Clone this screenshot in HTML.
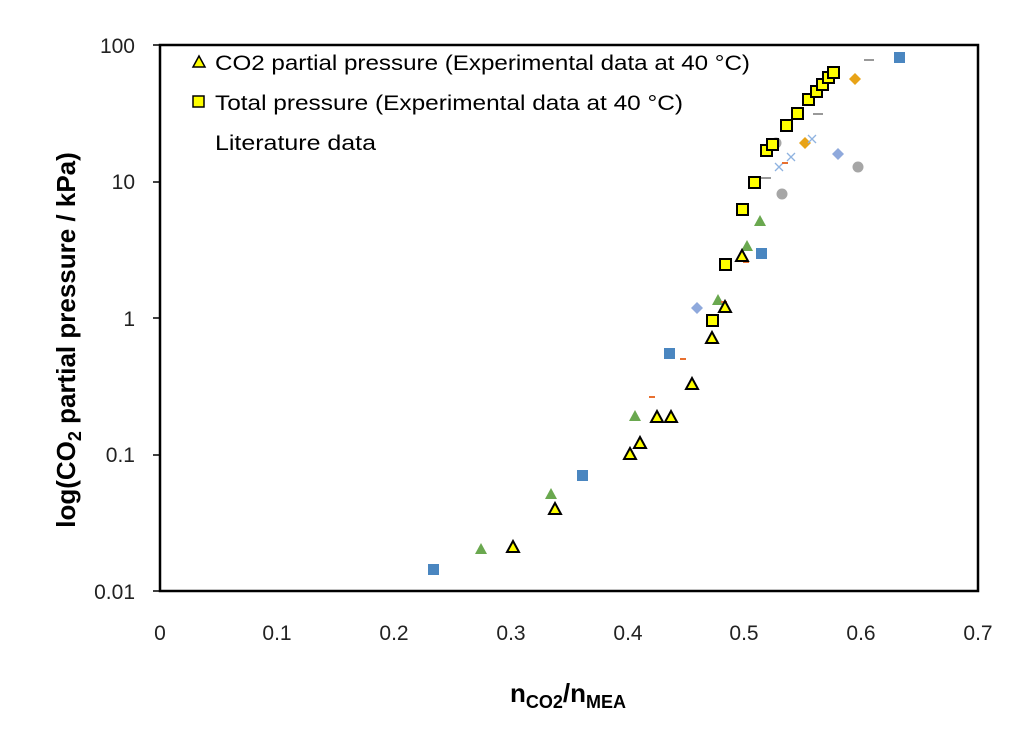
<!DOCTYPE html>
<html><head><meta charset="utf-8"><style>
body{margin:0;background:#fff;}
svg{display:block;font-family:"Liberation Sans","DejaVu Sans",sans-serif;}
</style></head><body>
<svg width="1023" height="743" viewBox="0 0 1023 743">
<rect x="160" y="45" width="818" height="546" fill="#fff" stroke="#000" stroke-width="2.5"/>
<g stroke="#000" stroke-width="1.5"><path d="M153,45h7M153,182h7M153,318h7M153,455h7M153,591h7"/></g>
<g font-size="21" fill="#222" text-anchor="end">
<text x="135" y="53">100</text><text x="135" y="189">10</text><text x="135" y="326">1</text><text x="135" y="462">0.1</text><text x="135" y="599">0.01</text>
</g>
<g font-size="21" fill="#222" text-anchor="middle">
<text x="160" y="640">0</text><text x="277" y="640">0.1</text><text x="394" y="640">0.2</text><text x="511" y="640">0.3</text><text x="628" y="640">0.4</text><text x="744" y="640">0.5</text><text x="861" y="640">0.6</text><text x="978" y="640">0.7</text>
</g>
<text x="568" y="702" font-size="26" font-weight="bold" text-anchor="middle">n<tspan font-size="18" dy="6">CO2</tspan><tspan dy="-6">/n</tspan><tspan font-size="18" dy="6">MEA</tspan></text>
<text transform="translate(75,340) rotate(-90)" font-size="26" font-weight="bold" text-anchor="middle">log(CO<tspan font-size="18" dy="6">2</tspan><tspan dy="-6"> partial pressure / kPa)</tspan></text>
<!-- legend -->
<polygon points="199,56 205,67 193,67" fill="#ff0" stroke="#000" stroke-width="1.5"/>
<text x="215" y="70" font-size="21" textLength="535" lengthAdjust="spacingAndGlyphs">CO2 partial pressure (Experimental data at 40 °C)</text>
<rect x="193" y="96" width="11" height="11" fill="#ff0" stroke="#000" stroke-width="1.5"/>
<text x="215" y="110" font-size="21" textLength="468" lengthAdjust="spacingAndGlyphs">Total pressure (Experimental data at 40 °C)</text>
<text x="215" y="150" font-size="21" textLength="161" lengthAdjust="spacingAndGlyphs">Literature data</text>
<!-- literature -->
<g fill="#4a86c0"><rect x="428" y="564" width="11" height="11"/><rect x="577" y="470" width="11" height="11"/><rect x="664" y="348" width="11" height="11"/><rect x="756" y="248" width="11" height="11"/><rect x="894" y="52" width="11" height="11"/></g>
<g fill="#6aa84f"><polygon points="718,294 724,305 712,305"/><polygon points="635,410 641,421 629,421"/><polygon points="747,240 753,251 741,251"/><polygon points="760,215 766,226 754,226"/><polygon points="551,488 557,499 545,499"/><polygon points="481,543 487,554 475,554"/></g>
<g fill="#8fa9dc"><polygon points="697,302 703,308 697,314 691,308"/><polygon points="838,148 844,154 838,160 832,154"/></g>
<g fill="#e8a317"><polygon points="805,137 811,143 805,149 799,143"/><polygon points="855,73 861,79 855,85 849,79"/></g>
<g fill="#a6a6a6"><circle cx="776" cy="143" r="5.5"/><circle cx="782" cy="194" r="5.5"/><circle cx="858" cy="167" r="5.5"/></g>
<g stroke="#8fb3e0" stroke-width="1.3"><path d="M775,163l8,8M783,163l-8,8M787,153l8,8M795,153l-8,8M808,135l8,8M816,135l-8,8"/></g>
<g stroke="#999" stroke-width="2"><path d="M761,178h10M813,114h10M864,60h10"/></g>
<g stroke="#e87030" stroke-width="2"><path d="M680,359h6M649,397h6M782,163h6M743,262h6M721,302h6"/></g>
<!-- experimental -->
<g fill="#ff0" stroke="#000" stroke-width="2">
<polygon points="725,301 731,312 719,312"/><polygon points="712,332 718,343 706,343"/><polygon points="692,378 698,389 686,389"/><polygon points="657,411 663,422 651,422"/><polygon points="671,411 677,422 665,422"/><polygon points="640,437 646,448 634,448"/><polygon points="630,448 636,459 624,459"/><polygon points="742,250 748,261 736,261"/><polygon points="555,503 561,514 549,514"/><polygon points="513,541 519,552 507,552"/>
</g>
<g fill="#ff0" stroke="#000" stroke-width="2">
<rect x="707" y="315" width="11" height="11"/><rect x="720" y="259" width="11" height="11"/><rect x="737" y="204" width="11" height="11"/><rect x="749" y="177" width="11" height="11"/><rect x="761" y="145" width="11" height="11"/><rect x="767" y="139" width="11" height="11"/><rect x="781" y="120" width="11" height="11"/><rect x="792" y="108" width="11" height="11"/><rect x="803" y="94" width="11" height="11"/><rect x="811" y="86" width="11" height="11"/><rect x="817" y="79" width="11" height="11"/><rect x="823" y="72" width="11" height="11"/><rect x="828" y="67" width="11" height="11"/>
</g>
</svg>
</body></html>
